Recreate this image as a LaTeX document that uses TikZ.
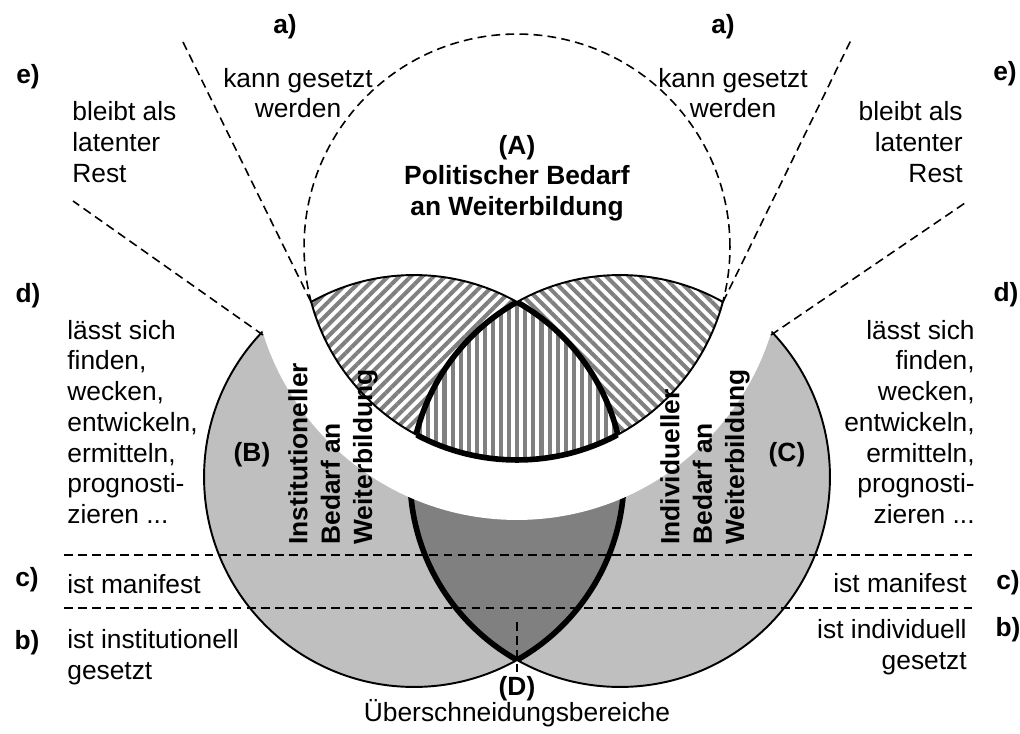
\documentclass[tikz,border=0pt]{standalone}
\usepackage{fontspec}
\setmainfont{Liberation Sans}
\usepackage{tikz}
\usetikzlibrary{patterns.meta}
\tikzset{>=latex}
\definecolor{lightset}{gray}{0.75}
\definecolor{darkset}{gray}{0.5}
\definecolor{stripe}{gray}{0.5}
\tikzset{
  txt/.style={inner sep=0pt,font=\fontsize{15}{17.5}\selectfont},
  bold/.style={inner sep=0pt,font=\fontsize{15}{17.5}\selectfont\bfseries},
  turned/.style={bold,rotate=90,anchor=west,align=left,font=\fontsize{15}{18.4}\selectfont\bfseries},
  dash line/.style={dash pattern=on 5pt off 3pt,line width=0.9pt},
  rim/.style={line width=1.1pt},
  rim thick/.style={line width=3.2pt},
  hatch/.style={pattern={Lines[angle=#1,distance=4.6pt,line width=2.3pt]},pattern color=stripe}
}

\begin{document}
\begin{tikzpicture}[x=0.02cm,y=-0.02cm]
\useasboundingbox (0,0) rectangle (1020,733);
\coordinate (A) at (517,247);
\coordinate (Bu) at (414,485);
\coordinate (Cu) at (620,485);
\coordinate (Bl) at (414,477);
\coordinate (Cl) at (620,477);
\coordinate (W) at (517,254);
\def\ra{4.26cm}\def\rb{4.2cm}\def\rw{5.32cm}

% lower halves of B and C
\fill[lightset] (Bl) circle[radius=\rb] (Cl) circle[radius=\rb];
\begin{scope}
  \clip (Bl) circle[radius=\rb];
  \fill[darkset] (Cl) circle[radius=\rb];
\end{scope}
\draw[rim] (Bl) circle[radius=\rb] (Cl) circle[radius=\rb];
\begin{scope}
  \clip (Bl) circle[radius=\rb];
  \draw[rim thick] (Cl) circle[radius=\rb];
\end{scope}
\begin{scope}
  \clip (Cl) circle[radius=\rb];
  \draw[rim thick] (Bl) circle[radius=\rb];
\end{scope}
\fill[white] (W) circle[radius=\rw];

% upper parts inside A
\begin{scope}
  \clip (A) circle[radius=\ra];
  \fill[hatch=45] (Bu) circle[radius=\rb];
  \fill[hatch=-45] (Cu) circle[radius=\rb];
  \draw[rim] (Bu) circle[radius=\rb] (Cu) circle[radius=\rb];
\end{scope}
\begin{scope}
  \clip (A) circle[radius=\ra];
  \clip (Bu) circle[radius=\rb];
  \fill[white] (Cu) circle[radius=\rb];
  \fill[hatch=90] (Cu) circle[radius=\rb];
  \draw[rim thick] (Cu) circle[radius=\rb];
\end{scope}
\begin{scope}
  \clip (A) circle[radius=\ra];
  \clip (Cu) circle[radius=\rb];
  \draw[rim thick] (Bu) circle[radius=\rb];
\end{scope}
\begin{scope}
  \clip (Bu) circle[radius=\rb];
  \clip (Cu) circle[radius=\rb];
  \draw[rim thick] (A) circle[radius=\ra];
\end{scope}
\begin{scope}
  \clip (0,0) rectangle (1020,302);
  \draw[dash line] (A) circle[radius=\ra];
\end{scope}
\begin{scope}
  \clip (0,302) rectangle (1020,733);
  \draw[rim] (A) circle[radius=\ra];
\end{scope}

% fan of dashed borders
\coordinate (tipL) at (311,302);
\coordinate (tipR) at (723,302);
\coordinate (cornL) at (263,335);
\coordinate (cornR) at (771,335);
\coordinate (fanAL) at (183,42);
\coordinate (fanAR) at (851,40);
\coordinate (fanEL) at (73,201);
\coordinate (fanER) at (965,203);
\draw[dash line] (tipL) -- (fanAL);
\draw[dash line] (tipR) -- (fanAR);
\draw[dash line] (cornL) -- (fanEL);
\draw[dash line] (cornR) -- (fanER);
\draw[dash line] (64,555) coordinate (c1L) -- (975,555) coordinate (c1R);
\draw[dash line] (64,608) coordinate (c2L) -- (975,608) coordinate (c2R);
\coordinate (Dtop) at (517,622);
\coordinate (Dbot) at (517,672);
\draw[dash line] (Dtop) -- (Dbot);

% labels
\node[bold] (aL) at (285,27) {a)};
\node[bold] (aR) at (723,27) {a)};
\node[bold] (eL) at (28,77) {e)};
\node[bold] (eR) at (1005,74) {e)};
\node[txt,align=center] (setL) at (298,93) {kann gesetzt\\werden};
\node[txt,align=center] (setR) at (733,93) {kann gesetzt\\werden};
\node[txt,align=left,anchor=west] (restL) at (72,142) {bleibt als\\latenter\\Rest};
\node[txt,align=right,anchor=east] (restR) at (963,142) {bleibt als\\latenter\\Rest};
\node[bold,align=center] (labA) at (517,178) {(A)\\Politischer Bedarf\\an Weiterbildung};
\node[bold] (dL) at (28,296) {d)};
\node[bold] (dR) at (1006,295) {d)};
\node[txt,align=left,anchor=west] (findL) at (67,422) {lässt sich\\finden,\\wecken,\\entwickeln,\\ermitteln,\\prognosti-\\zieren ...};
\node[txt,align=right,anchor=east] (findR) at (975,422) {lässt sich\\finden,\\wecken,\\entwickeln,\\ermitteln,\\prognosti-\\zieren ...};
\node[bold] (labB) at (252,455) {(B)};
\node[bold] (labC) at (787,455) {(C)};
\node[turned] (instB) at (333,545) {Institutioneller\\Bedarf an\\Weiterbildung};
\node[turned] (indC) at (705,545) {Individueller\\Bedarf an\\Weiterbildung};
\node[bold] (cL) at (27,580) {c)};
\node[bold] (cR) at (1008,583) {c)};
\node[txt,anchor=west] (manL) at (67,584) {ist manifest};
\node[txt,anchor=east] (manR) at (967,583) {ist manifest};
\node[bold] (bL) at (27,643) {b)};
\node[bold] (bR) at (1008,630) {b)};
\node[txt,align=left,anchor=west] (instL) at (67,657) {ist institutionell\\gesetzt};
\node[txt,align=right,anchor=east] (indR) at (967,647) {ist individuell\\gesetzt};
\node[bold] (labD) at (517,689) {(D)};
\node[txt] (overlap) at (517,713) {Überschneidungsbereiche};
\end{tikzpicture}
\end{document}
